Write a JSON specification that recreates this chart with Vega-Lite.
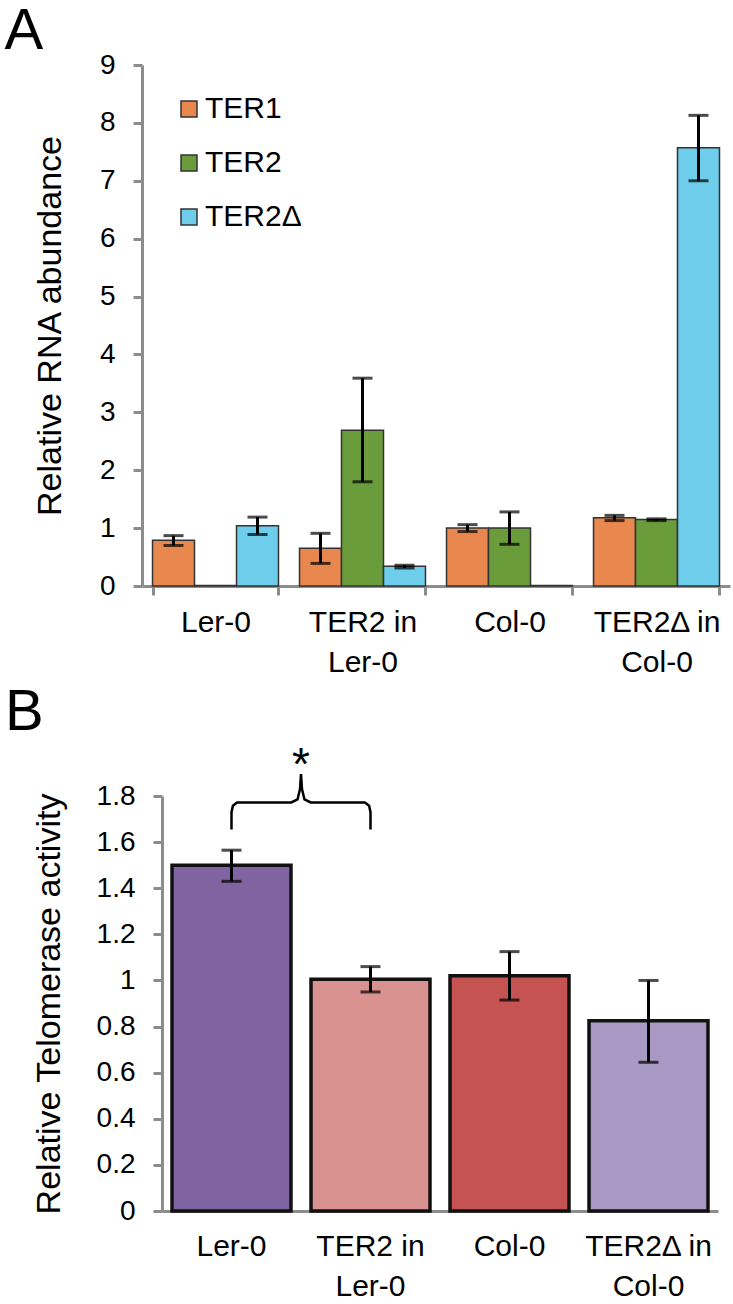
{
  "$schema": "https://vega.github.io/schema/vega-lite/v6.json",
  "padding": {"left": 4, "top": 3, "right": 4, "bottom": 0},
  "spacing": 7,
  "config": {
    "font": "Liberation Sans",
    "view": {"stroke": null},
    "axis": {"labelColor": "#000000", "titleColor": "#000000", "labelFont": "Liberation Sans", "titleFont": "Liberation Sans", "titleFontWeight": "normal", "domainColor": "#8c8c8c", "tickColor": "#8c8c8c", "domainWidth": 3, "tickWidth": 3, "grid": false},
    "title": {"font": "Liberation Sans", "fontWeight": "normal", "color": "#000000"}
  },
  "resolve": {"scale": {"color": "independent"}, "legend": {"color": "independent"}},
  "datasets": {
    "rna": [
      {"sample": "Ler-0", "rna": "TER1", "value": 0.79, "lo": 0.70, "hi": 0.87},
      {"sample": "Ler-0", "rna": "TER2", "value": 0.01, "lo": null, "hi": null},
      {"sample": "Ler-0", "rna": "TER2Δ", "value": 1.04, "lo": 0.89, "hi": 1.19},
      {"sample": "TER2 in Ler-0", "rna": "TER1", "value": 0.65, "lo": 0.39, "hi": 0.91},
      {"sample": "TER2 in Ler-0", "rna": "TER2", "value": 2.69, "lo": 1.80, "hi": 3.59},
      {"sample": "TER2 in Ler-0", "rna": "TER2Δ", "value": 0.34, "lo": 0.31, "hi": 0.36},
      {"sample": "Col-0", "rna": "TER1", "value": 1.00, "lo": 0.94, "hi": 1.06},
      {"sample": "Col-0", "rna": "TER2", "value": 1.00, "lo": 0.72, "hi": 1.28},
      {"sample": "Col-0", "rna": "TER2Δ", "value": 0.01, "lo": null, "hi": null},
      {"sample": "TER2Δ in Col-0", "rna": "TER1", "value": 1.18, "lo": 1.13, "hi": 1.22},
      {"sample": "TER2Δ in Col-0", "rna": "TER2", "value": 1.15, "lo": 1.13, "hi": 1.16},
      {"sample": "TER2Δ in Col-0", "rna": "TER2Δ", "value": 7.57, "lo": 7.00, "hi": 8.13}
    ],
    "tel": [
      {"sample": "Ler-0", "value": 1.50, "lo": 1.43, "hi": 1.565},
      {"sample": "TER2 in Ler-0", "value": 1.005, "lo": 0.95, "hi": 1.06},
      {"sample": "Col-0", "value": 1.02, "lo": 0.915, "hi": 1.125},
      {"sample": "TER2Δ in Col-0", "value": 0.825, "lo": 0.645, "hi": 1.0}
    ],
    "brace": [
      {"order": 1, "bx": 0.5, "by": 1.655},
      {"order": 2, "bx": 0.5, "by": 1.73},
      {"order": 3, "bx": 0.51, "by": 1.758},
      {"order": 4, "bx": 0.54, "by": 1.772},
      {"order": 5, "bx": 0.93, "by": 1.772},
      {"order": 6, "bx": 0.975, "by": 1.785},
      {"order": 7, "bx": 0.993, "by": 1.83},
      {"order": 8, "bx": 1.0, "by": 1.895},
      {"order": 9, "bx": 1.007, "by": 1.83},
      {"order": 10, "bx": 1.025, "by": 1.785},
      {"order": 11, "bx": 1.07, "by": 1.772},
      {"order": 12, "bx": 1.46, "by": 1.772},
      {"order": 13, "bx": 1.49, "by": 1.758},
      {"order": 14, "bx": 1.5, "by": 1.73},
      {"order": 15, "bx": 1.5, "by": 1.655}
    ],
    "star": [
      {"bx": 1.0, "by": 1.93, "label": "*"}
    ]
  },
  "vconcat": [
    {
      "width": 588,
      "height": 521,
      "title": {"text": "A", "anchor": "start", "frame": "bounds", "fontSize": 58, "dx": -29, "offset": -10},
      "data": {"name": "rna"},
      "encoding": {
        "x": {"field": "sample", "type": "nominal", "sort": ["Ler-0", "TER2 in Ler-0", "Col-0", "TER2Δ in Col-0"],
          "scale": {"paddingInner": 0.143, "paddingOuter": 0.0715},
          "axis": {"title": null, "labelAngle": 0, "labelFontSize": 30, "labelPadding": 12, "tickSize": 9, "tickBand": "extent", "labelLineHeight": 40,
            "labelExpr": "split(replace(datum.label, ' in ', ' in|'), '|')"}},
        "xOffset": {"field": "rna", "type": "nominal", "sort": ["TER1", "TER2", "TER2Δ"], "scale": {"paddingInner": 0, "paddingOuter": 0}}
      },
      "layer": [
        {
          "mark": {"type": "bar", "stroke": "#333333", "strokeWidth": 1.5},
          "encoding": {
            "y": {"field": "value", "type": "quantitative", "scale": {"domain": [0, 9], "nice": false},
              "axis": {"values": [0, 1, 2, 3, 4, 5, 6, 7, 8, 9], "format": "d", "title": "Relative RNA abundance", "titleFontSize": 34, "titlePadding": 32, "labelFontSize": 28, "labelPadding": 18, "tickSize": 9}},
            "color": {"field": "rna", "type": "nominal", "sort": ["TER1", "TER2", "TER2Δ"],
              "scale": {"domain": ["TER1", "TER2", "TER2Δ"], "range": ["#e8884f", "#6b9c3c", "#6dcdeb"]},
              "legend": {"title": null, "orient": "none", "legendX": 32, "legendY": 29, "symbolType": "square", "symbolSize": 256, "symbolStrokeColor": "#333333", "symbolStrokeWidth": 1.5, "labelFontSize": 30, "labelFont": "Liberation Sans", "labelColor": "#000000", "rowPadding": 24, "labelOffset": 1}}
          }
        },
        {
          "mark": {"type": "rule", "color": "#000000", "strokeWidth": 3},
          "encoding": {"y": {"field": "lo", "type": "quantitative"}, "y2": {"field": "hi"}}
        },
        {
          "mark": {"type": "tick", "color": "#000000", "thickness": 3, "size": 20},
          "encoding": {"y": {"field": "lo", "type": "quantitative"}}
        },
        {
          "mark": {"type": "tick", "color": "#000000", "thickness": 3, "size": 20},
          "encoding": {"y": {"field": "hi", "type": "quantitative"}}
        }
      ]
    },
    {
      "width": 576,
      "height": 415,
      "title": {"text": "B", "anchor": "start", "frame": "bounds", "fontSize": 58, "dx": -27, "offset": 1},
      "resolve": {"scale": {"x": "independent"}},
      "layer": [
        {
          "data": {"name": "tel"},
          "encoding": {
            "x": {"field": "sample", "type": "nominal", "sort": ["Ler-0", "TER2 in Ler-0", "Col-0", "TER2Δ in Col-0"],
              "scale": {"paddingInner": 0.144, "paddingOuter": 0.072, "range": [20, 576]},
              "axis": {"title": null, "labelAngle": 0, "labelFontSize": 30, "labelPadding": 20, "ticks": false, "tickSize": 0, "labelLineHeight": 40,
                "labelExpr": "split(replace(datum.label, ' in ', ' in|'), '|')"}}
          },
          "layer": [
            {
              "mark": {"type": "bar", "stroke": "#111111", "strokeWidth": 3.5},
              "encoding": {
                "y": {"field": "value", "type": "quantitative", "scale": {"domain": [0, 1.8], "nice": false},
                  "axis": {"values": [0, 0.2, 0.4, 0.6, 0.8, 1, 1.2, 1.4, 1.6, 1.8], "format": "~g", "offset": -20, "title": "Relative Telomerase activity", "titleFontSize": 34, "titlePadding": 30, "labelFontSize": 28, "labelPadding": 18, "tickSize": 9}},
                "color": {"field": "sample", "type": "nominal", "sort": ["Ler-0", "TER2 in Ler-0", "Col-0", "TER2Δ in Col-0"],
                  "scale": {"domain": ["Ler-0", "TER2 in Ler-0", "Col-0", "TER2Δ in Col-0"], "range": ["#8064a2", "#d99290", "#c55351", "#a998c3"]},
                  "legend": null}
              }
            },
            {
              "mark": {"type": "rule", "color": "#000000", "strokeWidth": 3},
              "encoding": {"y": {"field": "lo", "type": "quantitative"}, "y2": {"field": "hi"}}
            },
            {
              "mark": {"type": "tick", "color": "#000000", "thickness": 3, "size": 20},
              "encoding": {"y": {"field": "lo", "type": "quantitative"}}
            },
            {
              "mark": {"type": "tick", "color": "#000000", "thickness": 3, "size": 20},
              "encoding": {"y": {"field": "hi", "type": "quantitative"}}
            }
          ]
        },
        {
          "data": {"name": "brace"},
          "mark": {"type": "line", "color": "#000000", "strokeWidth": 2.5, "interpolate": "linear"},
          "encoding": {
            "x": {"field": "bx", "type": "quantitative", "scale": {"domain": [0, 4], "nice": false, "zero": false, "range": [20, 576]}, "axis": null},
            "y": {"field": "by", "type": "quantitative"},
            "order": {"field": "order", "type": "quantitative"}
          }
        },
        {
          "data": {"name": "star"},
          "mark": {"type": "text", "fontSize": 46, "baseline": "middle", "color": "#000000", "font": "Liberation Sans"},
          "encoding": {
            "x": {"field": "bx", "type": "quantitative", "scale": {"domain": [0, 4], "nice": false, "zero": false, "range": [20, 576]}, "axis": null},
            "y": {"field": "by", "type": "quantitative"},
            "text": {"field": "label"}
          }
        }
      ]
    }
  ]
}
